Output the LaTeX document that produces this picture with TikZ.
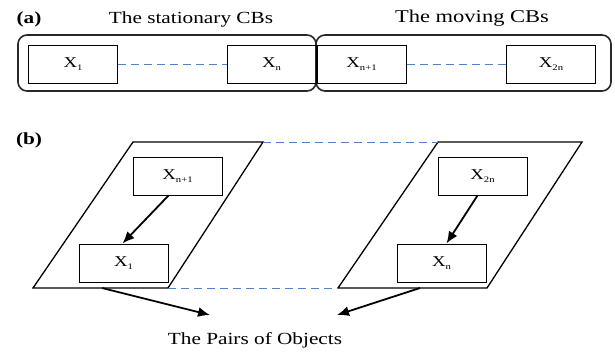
\documentclass[tikz,border=0pt]{standalone}
\usepackage{fontspec}
\setmainfont{Liberation Serif}[FakeStretch=1.25]
\usetikzlibrary{arrows.meta}
\definecolor{linkblue}{RGB}{80,130,200}
\definecolor{framegray}{RGB}{40,40,40}
\tikzset{
  group/.style={draw=framegray, line width=1.6pt, rounded corners=9pt},
  cb/.style={draw, line width=1pt, minimum width=89pt, minimum height=38pt,
             inner sep=0pt, font=\fontsize{15}{16}\selectfont},
  plane/.style={draw, line width=1.3pt, line join=miter},
  link/.style={draw=linkblue, line width=1pt, dash pattern=on 8pt off 5pt},
  pairarrow/.style={line width=1.8pt, -{Latex[length=12pt,width=10pt]}},
  heading/.style={font=\fontsize{17}{19}\selectfont, inner sep=0pt},
  tag/.style={font=\fontsize{17}{19}\selectfont\bfseries, inner sep=0pt}
}
\newcommand{\sbx}[1]{\raisebox{-0.35ex}{\fontsize{8.5}{9}\selectfont #1}}
\begin{document}
\begin{tikzpicture}[x=1pt,y=-1pt]
\useasboundingbox (0,0) rectangle (615,351);

% ---- (a) the two groups of CBs
\node[tag] (taga) at (29,19) {(a)};
\node[heading] (stat) at (191,19) {The stationary CBs};
\node[heading, font=\fontsize{18}{20}\selectfont] (mov) at (472,18) {The moving CBs};

\draw[group] (18,35) rectangle (316,91);
\draw[group] (316,35) rectangle (611,91);

\node[cb] (a1)  at (73,64)    {X\sbx{1}};
\node[cb] (an)  at (271.5,64) {X\sbx{n}};
\node[cb] (an1) at (361.5,64) {X\sbx{n+1}};
\node[cb] (a2n) at (551,64)   {X\sbx{2n}};

\draw[link] (a1.east) -- (an.west);
\draw[link] (an1.east) -- (a2n.west);

% ---- (b) pairs of objects
\node[tag] (tagb) at (29,140) {(b)};

% left plane
\coordinate (l1) at (133,142);
\coordinate (l2) at (263,142);
\coordinate (l3) at (168,288);
\coordinate (l4) at (33,288);
\draw[plane] (l1) -- (l2) -- (l3) -- (l4) -- cycle;

% right plane
\coordinate (r1) at (438,142);
\coordinate (r2) at (582,142);
\coordinate (r3) at (487,288);
\coordinate (r4) at (338,288);
\draw[plane] (r1) -- (r2) -- (r3) -- (r4) -- cycle;

\draw[link] (l2) -- (r1);
\draw[link] (l3) -- (r4);

\node[cb] (bn1) at (177.5,176) {X\sbx{n+1}};
\node[cb] (b1)  at (123.5,263) {X\sbx{1}};
\node[cb] (b2n) at (482.5,176) {X\sbx{2n}};
\node[cb] (bn)  at (441.5,263) {X\sbx{n}};

\draw[pairarrow] ([xshift=-9pt]bn1.south) -- ([xshift=-1pt]b1.north);
\draw[pairarrow] ([xshift=-5pt]b2n.south) -- ([xshift=5pt]bn.north);

\node[heading] (pairs) at (255,340) {The Pairs of Objects};
\coordinate (lfoot) at (102,288);
\coordinate (rfoot) at (420,288);
\coordinate (ltip) at (210,315);
\coordinate (rtip) at (337,315);
\draw[pairarrow] (lfoot) -- (ltip);
\draw[pairarrow] (rfoot) -- (rtip);
\end{tikzpicture}
\end{document}
